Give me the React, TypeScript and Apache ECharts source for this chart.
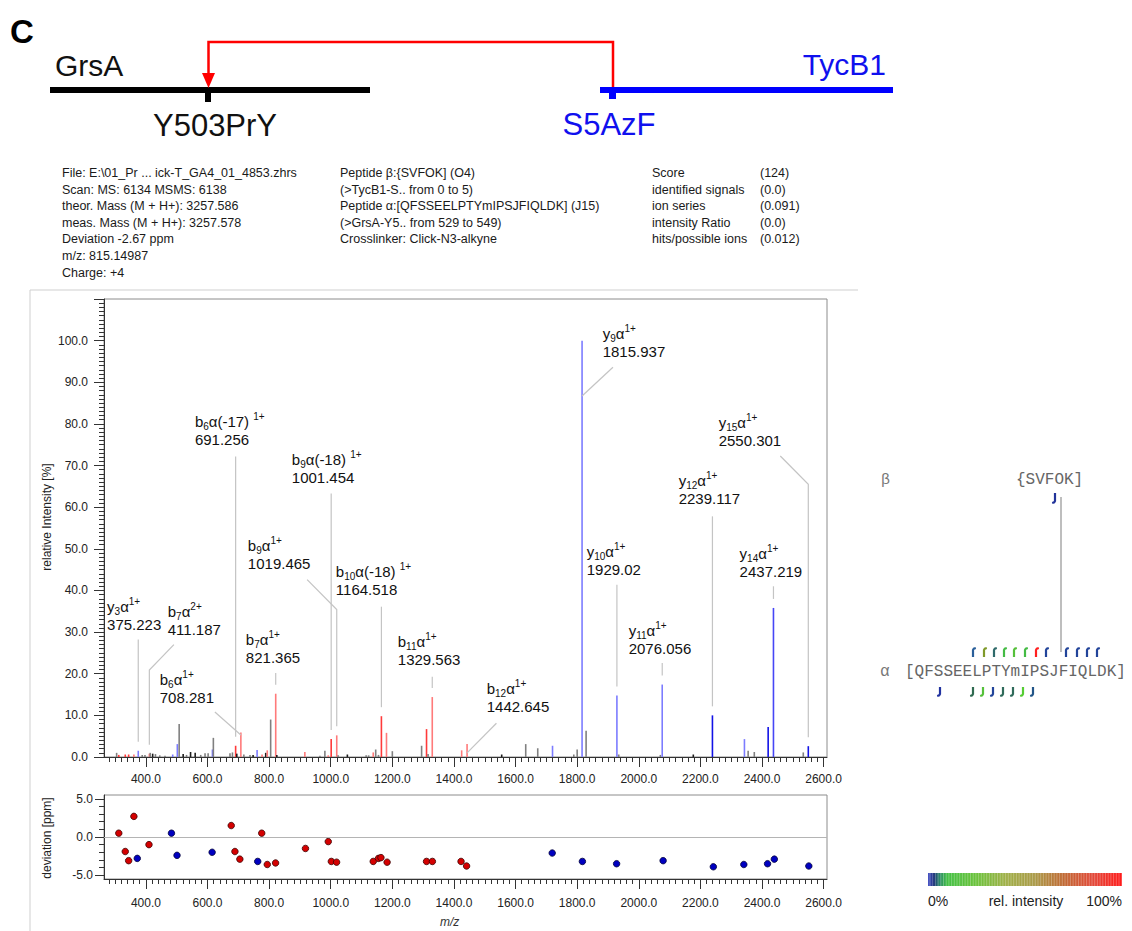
import React, { useEffect, useRef } from "react";
import * as echarts from "echarts";

const FONT = '"Liberation Sans", Arial, Helvetica, sans-serif';
const MONO = '"Liberation Mono", "DejaVu Sans Mono", "Courier New", monospace';

// ---------- axes ----------
const X_MIN = 264;
const X_MAX = 2611;
const X_MAJOR = [400, 600, 800, 1000, 1200, 1400, 1600, 1800, 2000, 2200, 2400, 2600];
const X_MINOR: number[] = [];
for (let v = 280; v <= 2600; v += 20) if (v % 200 !== 0) X_MINOR.push(v);
const DEV_LABELS = [-5, 0, 5];
const DEV_MINOR = [-4, -3, -2, -1, 1, 2, 3, 4];

// ---------- spectrum peaks ----------
const PEAK_MZ = [305, 312, 333, 344, 361, 375.2, 388, 397, 411.2, 414, 422, 431, 445, 462, 487, 502, 508, 521, 532, 545, 560, 578, 592, 602, 616, 619, 673, 681, 691.3, 695, 708.3, 718, 738, 748, 761, 777, 789, 794, 805, 821.4, 825, 916, 965, 981, 992, 1001.5, 1019.5, 1024, 1054, 1115, 1123, 1138, 1146, 1155, 1164.5, 1181, 1200, 1295, 1311, 1316, 1329.6, 1425, 1442.6, 1555, 1633, 1672, 1720, 1789, 1800, 1815.9, 1829, 1929.0, 1935, 2070, 2076.1, 2177, 2239.1, 2343, 2355, 2375, 2420, 2437.2, 2534, 2550.3];
const PEAK_INT = [1.0, 0.5, 0.6, 0.6, 0.6, 1.5, 0.5, 0.5, 0.8, 1.0, 0.8, 0.7, 0.4, 0.3, 0.6, 3.1, 7.9, 0.7, 0.5, 1.2, 1.0, 0.5, 0.9, 0.9, 1.8, 4.6, 0.9, 1.1, 2.7, 0.8, 5.9, 0.6, 0.5, 0.5, 1.7, 0.6, 1.0, 1.6, 9.0, 15.2, 0.5, 1.2, 0.3, 1.5, 0.4, 4.3, 5.2, 0.4, 0.6, 0.4, 0.4, 1.1, 1.8, 0.5, 9.8, 5.8, 1.4, 2.7, 6.7, 0.7, 14.4, 1.6, 3.1, 0.6, 3.1, 2.1, 2.7, 0.6, 1.8, 100, 6.3, 14.8, 0.6, 0.5, 17.4, 0.6, 10.0, 4.3, 1.5, 1.2, 7.2, 35.8, 1.1, 2.6];
const PEAK_CLASS = ["g", "R", "R", "R", "r", "b", "g", "g", "r", "g", "k", "g", "g", "g", "b", "b", "g", "k", "g", "k", "k", "g", "g", "g", "b", "g", "g", "g", "R", "k", "r", "g", "g", "k", "b", "r", "k", "r", "g", "r", "k", "r", "g", "g", "r", "R", "r", "g", "k", "g", "g", "r", "g", "g", "R", "r", "g", "g", "R", "g", "r", "r", "r", "k", "g", "g", "b", "g", "g", "b", "g", "b", "g", "g", "b", "k", "B", "b", "g", "g", "B", "M", "g", "B"];
const CLASS_COLOR: Record<string, string> = { r: "#ff7a7a", R: "#ff3a3a", b: "#7c7cff", B: "#1212e6", M: "#4646f6", g: "#808080", k: "#1e1e1e" };

// ---------- annotations ----------
const ANNOT_ION = ["y", "b", "b", "b", "b", "b", "b", "b", "b", "b", "y", "y", "y", "y", "y", "y"];
const ANNOT_SUB = ["3", "7", "6", "6", "9", "9", "10", "7", "11", "12", "9", "10", "11", "12", "14", "15"];
const ANNOT_MOD = ["", "", "", "(-17) ", "(-18) ", "", "(-18) ", "", "", "", "", "", "", "", "", ""];
const ANNOT_CHARGE = ["1+", "2+", "1+", "1+", "1+", "1+", "1+", "1+", "1+", "1+", "1+", "1+", "1+", "1+", "1+", "1+"];
const ANNOT_TEXT = ["375.223", "411.187", "708.281", "691.256", "1001.454", "1019.465", "1164.518", "821.365", "1329.563", "1442.645", "1815.937", "1929.02", "2076.056", "2239.117", "2437.219", "2550.301"];
const ANNOT_PEAK_MZ = [375.2, 411.2, 708.3, 691.3, 1001.5, 1019.5, 1164.5, 821.4, 1329.6, 1442.6, 1815.9, 1929.0, 2076.1, 2239.1, 2437.2, 2550.3];
const ANNOT_PEAK_INT = [1.5, 0.8, 5.9, 2.7, 4.3, 5.2, 9.8, 15.2, 14.4, 3.1, 100, 14.8, 17.4, 10.0, 35.8, 2.6];

// label layout (in data units of the spectrum axes)
const LABEL_POS = [[274, 38.5], [471, 37.3], [445, 20.9], [559, 83.0], [873.7, 73.9], [731, 53.2], [1016.5, 46.9], [724.5, 30.6], [1217.7, 30.1], [1506.4, 18.8], [1882.8, 104.0], [1831, 51.7], [1967.2, 32.7], [2129.4, 68.8], [2327.3, 51.3], [2259.2, 82.8]];
const LEADER_START = [[375.2, 28.2], [490.9, 27.0], [624, 10.8], [691.3, 72.2], [1001.5, 63.3], [923.4, 42.6], [1164.5, 36.1], [821.4, 20.2], [1329.6, 19.3], [1537.9, 8.1], [1916.2, 93.6], [1929.0, 41.4], [2076.1, 22.6], [2239.1, 57.8], [2437.2, 41.0], [2459.4, 72.3]];
const LEADER_BEND: (number[] | null)[] = [null, [411.2, 20.9], null, null, null, [1019.5, 35.4], null, null, null, null, null, null, null, null, null, [2550.3, 65.5]];
const LEADER_END: (number | null)[] = [null, null, 5.3, null, null, null, null, null, null, 1.0, 86.7, null, null, null, null, null];

// ---------- deviation ----------
const DEV_B_MZ = [312, 333, 344, 361, 410, 677, 689, 705, 776, 794, 821, 918, 992, 1002, 1019, 1138, 1155, 1163, 1183, 1311, 1330, 1423, 1441];
const DEV_B_PPM = [0.5, -1.9, -3.1, 2.7, -1.0, 1.5, -1.9, -2.9, 0.5, -3.6, -3.4, -1.5, -0.6, -3.2, -3.3, -3.2, -2.8, -2.7, -3.3, -3.2, -3.2, -3.2, -3.8];
const DEV_Y_MZ = [372, 483, 501, 615, 763, 1719, 1817, 1928, 2079, 2242, 2341, 2418, 2440, 2552];
const DEV_Y_PPM = [-2.8, 0.5, -2.4, -2.0, -3.2, -2.1, -3.2, -3.5, -3.1, -3.9, -3.6, -3.5, -2.9, -3.8];

// ---------- texts ----------
const META_COL1 = ["File: E:\\01_Pr ... ick-T_GA4_01_4853.zhrs", "Scan: MS: 6134 MSMS: 6138", "theor. Mass (M + H+): 3257.586", "meas. Mass (M + H+): 3257.578", "Deviation -2.67 ppm", "m/z: 815.14987", "Charge: +4"];
const META_COL2 = ["Peptide β:{SVFOK] (O4)", "(>TycB1-S.. from 0 to 5)", "Peptide α:[QFSSEELPTYmIPSJFIQLDK] (J15)", "(>GrsA-Y5.. from 529 to 549)", "Crosslinker: Click-N3-alkyne"];
const META_COL3 = ["Score", "identified signals", "ion series", "intensity Ratio", "hits/possible ions"];
const META_COL4 = ["(124)", "(0.0)", "(0.091)", "(0.0)", "(0.012)"];
const META_Y = [173, 189.5, 206, 222.5, 239, 256, 273];

const SEQ_TOP_X = [973, 984, 994, 1004, 1014, 1025, 1036, 1046, 1066, 1077, 1087, 1097];
const SEQ_TOP_COLOR = ["#2a5f9a", "#7f9a2a", "#2f6a6a", "#44bb44", "#55c03a", "#44bb44", "#ff2020", "#22449a", "#22449a", "#22449a", "#22449a", "#22449a"];
const SEQ_BOT_X = [940, 973, 983, 993, 1003, 1013, 1023, 1033];
const SEQ_BOT_COLOR = ["#2233a0", "#2f6a50", "#55c03a", "#22449a", "#2f6a5a", "#2f6a5a", "#55cc33", "#225588"];

function txt(x: number, y: number, text: string, opts: any = {}) {
  const align = opts.align || "left";
  const va = opts.va || "middle";
  return {
    type: "text",
    x,
    y,
    rotation: opts.rotation || 0,
    silent: true,
    style: {
      text,
      x: 0,
      y: 0,
      font: opts.font || `12.5px ${FONT}`,
      fill: opts.fill || "#1a1a1a",
      align,
      textAlign: align,
      verticalAlign: va,
      textVerticalAlign: va,
    },
  };
}

function buildGraphic() {
  const g: any[] = [];
  // header
  g.push(txt(10, 31.5, "C", { font: `bold 33px ${FONT}`, fill: "#000" }));
  g.push(txt(55, 65, "GrsA", { font: `30px ${FONT}`, fill: "#111" }));
  g.push(txt(886, 64, "TycB1", { font: `30px ${FONT}`, fill: "#1010ee", align: "right" }));
  g.push(txt(215, 125, "Y503PrY", { font: `31px ${FONT}`, fill: "#111", align: "center" }));
  g.push(txt(609, 124, "S5AzF", { font: `31px ${FONT}`, fill: "#1010ee", align: "center" }));
  g.push({ type: "rect", shape: { x: 50, y: 87, width: 320, height: 6 }, style: { fill: "#000" }, silent: true });
  g.push({ type: "rect", shape: { x: 205, y: 92, width: 6, height: 10 }, style: { fill: "#000" }, silent: true });
  g.push({ type: "rect", shape: { x: 600, y: 87, width: 293, height: 6 }, style: { fill: "#0000ff" }, silent: true });
  g.push({ type: "rect", shape: { x: 609, y: 92, width: 7, height: 7 }, style: { fill: "#0000ff" }, silent: true });
  g.push({ type: "polyline", shape: { points: [[208.5, 76], [208.5, 42], [613, 42], [613, 87]] }, style: { stroke: "#ff0000", lineWidth: 2.5, fill: null }, silent: true });
  g.push({ type: "polygon", shape: { points: [[202, 73], [215, 73], [208.5, 88]] }, style: { fill: "#ff0000" }, silent: true });

  // metadata
  META_COL1.forEach((t, i) => g.push(txt(62, META_Y[i], t)));
  META_COL2.forEach((t, i) => g.push(txt(340, META_Y[i], t)));
  META_COL3.forEach((t, i) => g.push(txt(652, META_Y[i], t)));
  META_COL4.forEach((t, i) => g.push(txt(760, META_Y[i], t)));

  // panel border
  g.push({ type: "line", shape: { x1: 30, y1: 290, x2: 858, y2: 290 }, style: { stroke: "#cfcfcf", lineWidth: 1 }, silent: true });
  g.push({ type: "line", shape: { x1: 30, y1: 290, x2: 30, y2: 931 }, style: { stroke: "#cfcfcf", lineWidth: 1 }, silent: true });

  // axis names
  g.push(txt(47, 517, "relative Intensity [%]", { font: `12px ${FONT}`, align: "center", rotation: Math.PI / 2, fill: "#222" }));
  g.push(txt(47, 838, "deviation [ppm]", { font: `12px ${FONT}`, align: "center", rotation: Math.PI / 2, fill: "#222" }));
  g.push(txt(440, 922, "m/z", { font: `italic 12px ${FONT}`, fill: "#333" }));

  // sequence panel
  g.push(txt(881, 480, "β", { font: `15px ${MONO}`, fill: "#777" }));
  g.push(txt(1016, 480, "{SVFOK]", { font: `16px ${MONO}`, fill: "#666" }));
  g.push(txt(880, 672, "α", { font: `16px ${MONO}`, fill: "#777" }));
  g.push(txt(905, 672, "[QFSSEELPTYmIPSJFIQLDK]", { font: `16px ${MONO}`, fill: "#666" }));
  g.push({ type: "line", shape: { x1: 1061, y1: 497, x2: 1061, y2: 652 }, style: { stroke: "#a8a8a8", lineWidth: 1.5 }, silent: true });
  SEQ_TOP_X.forEach((x, i) =>
    g.push({ type: "polyline", shape: { points: [[x, 657], [x, 650], [x + 0.8, 648.6], [x + 2.8, 648]] }, style: { stroke: SEQ_TOP_COLOR[i], lineWidth: 2.2, fill: null }, silent: true })
  );
  SEQ_BOT_X.forEach((x, i) =>
    g.push({ type: "polyline", shape: { points: [[x, 687], [x, 694], [x - 0.8, 695.4], [x - 2.8, 696]] }, style: { stroke: SEQ_BOT_COLOR[i], lineWidth: 2.2, fill: null }, silent: true })
  );
  g.push({ type: "polyline", shape: { points: [[1055, 493], [1055, 501], [1054.2, 502.4], [1052.2, 503]] }, style: { stroke: "#22339a", lineWidth: 2.2, fill: null }, silent: true });

  // colour bar
  g.push({
    type: "rect",
    shape: { x: 928, y: 873, width: 194, height: 13 },
    style: {
      fill: new echarts.graphic.LinearGradient(0, 0, 1, 0, [
        { offset: 0, color: "#4a55c8" },
        { offset: 0.03, color: "#1c2f7a" },
        { offset: 0.06, color: "#2a8a66" },
        { offset: 0.1, color: "#44c044" },
        { offset: 0.25, color: "#6cc23c" },
        { offset: 0.4, color: "#a0b048" },
        { offset: 0.55, color: "#aa9a48" },
        { offset: 0.7, color: "#c06a34" },
        { offset: 0.85, color: "#e24a3a" },
        { offset: 1, color: "#ff1a1a" },
      ]),
    },
    silent: true,
  });
  for (let x = 930; x < 1122; x += 2.7) {
    g.push({ type: "line", shape: { x1: x, y1: 873, x2: x, y2: 886 }, style: { stroke: "rgba(255,255,255,0.35)", lineWidth: 0.8 }, silent: true });
  }
  g.push(txt(928, 901, "0%", { font: `14px ${FONT}`, fill: "#222" }));
  g.push(txt(1026, 901, "rel. intensity", { font: `14px ${FONT}`, fill: "#222", align: "center" }));
  g.push(txt(1122, 901, "100%", { font: `14px ${FONT}`, fill: "#222", align: "right" }));
  return g;
}

const RICH = {
  n: { fontSize: 15, fontFamily: FONT, lineHeight: 20, fill: "#111" },
  s: { fontSize: 10, fontFamily: FONT, lineHeight: 12, verticalAlign: "bottom", fill: "#111" },
  p: { fontSize: 10, fontFamily: FONT, lineHeight: 10, verticalAlign: "top", fill: "#111" },
  m: { fontSize: 15, fontFamily: FONT, lineHeight: 16, fill: "#111" },
};

function xAxisMain(gridIndex: number, margin: number) {
  return {
    type: "value",
    gridIndex,
    min: X_MIN,
    max: X_MAX,
    position: "bottom",
    axisLine: { show: true, onZero: false, lineStyle: { color: "#333", width: 1 } },
    axisTick: { show: true, customValues: X_MAJOR, length: 10, lineStyle: { color: "#333" } },
    axisLabel: { show: true, customValues: X_MAJOR, margin, color: "#222", fontSize: 12, fontFamily: FONT, formatter: (v: number) => v.toFixed(1) },
    splitLine: { show: false },
  };
}
function xAxisMinor(gridIndex: number) {
  return {
    type: "value",
    gridIndex,
    min: X_MIN,
    max: X_MAX,
    position: "bottom",
    axisLine: { show: false, onZero: false },
    axisTick: { show: true, customValues: X_MINOR, length: 5, lineStyle: { color: "#333" } },
    axisLabel: { show: false },
    splitLine: { show: false },
  };
}

function buildOption() {
  return {
    animation: false,
    backgroundColor: "#fff",
    grid: [
      { left: 104, top: 299, width: 723, height: 458, show: true, borderColor: "#8c8c8c", borderWidth: 1 },
      { left: 104, top: 795, width: 723, height: 84, show: true, borderColor: "#8c8c8c", borderWidth: 1 },
    ],
    xAxis: [xAxisMain(0, 16), xAxisMinor(0), xAxisMain(1, 18), xAxisMinor(1)],
    yAxis: [
      {
        type: "value",
        gridIndex: 0,
        position: "left",
        min: 0,
        max: 110,
        interval: 10,
        axisLine: { show: true, onZero: false, lineStyle: { color: "#333" } },
        axisTick: { show: true, length: 10, lineStyle: { color: "#333" } },
        minorTick: { show: true, splitNumber: 10, length: 5, lineStyle: { color: "#333" } },
        axisLabel: { margin: 16, color: "#222", fontSize: 12, fontFamily: FONT, formatter: (v: number) => (v > 100 ? "" : v.toFixed(1)) },
        splitLine: { show: false },
      },
      {
        type: "value",
        gridIndex: 1,
        position: "left",
        min: -5.5,
        max: 5.5,
        axisLine: { show: true, onZero: false, lineStyle: { color: "#333" } },
        axisTick: { show: true, customValues: DEV_LABELS, length: 9, lineStyle: { color: "#333" } },
        axisLabel: { customValues: DEV_LABELS, margin: 11, color: "#222", fontSize: 12, fontFamily: FONT, formatter: (v: number) => v.toFixed(1) },
        splitLine: { show: false },
      },
      {
        type: "value",
        gridIndex: 1,
        position: "left",
        offset: 0,
        min: -5.5,
        max: 5.5,
        axisLine: { show: false, onZero: false },
        axisTick: { show: true, customValues: DEV_MINOR, length: 5, lineStyle: { color: "#333" } },
        axisLabel: { show: false },
        splitLine: { show: false },
      },
    ],
    graphic: buildGraphic(),
    series: [
      {
        type: "custom",
        name: "peaks",
        xAxisIndex: 0,
        yAxisIndex: 0,
        silent: true,
        data: PEAK_MZ.map((m, i) => [m, PEAK_INT[i], i]),
        encode: { x: 0, y: 1 },
        renderItem: (params: any, api: any) => {
          const i = api.value(2);
          const p0 = api.coord([api.value(0), 0]);
          const p1 = api.coord([api.value(0), api.value(1)]);
          return {
            type: "line",
            shape: { x1: p0[0], y1: p0[1], x2: p1[0], y2: p1[1] },
            style: { stroke: CLASS_COLOR[PEAK_CLASS[i]], lineWidth: 1.6 },
          };
        },
      },
      {
        type: "custom",
        name: "annotations",
        xAxisIndex: 0,
        yAxisIndex: 0,
        silent: true,
        clip: false,
        data: ANNOT_PEAK_MZ.map((m, i) => [m, ANNOT_PEAK_INT[i], i]),
        encode: { x: 0, y: 1 },
        renderItem: (params: any, api: any) => {
          const i = api.value(2);
          const peak = api.coord([api.value(0), api.value(1)]);
          const pts: number[][] = [api.coord(LEADER_START[i])];
          const bend = LEADER_BEND[i];
          if (bend) pts.push(api.coord(bend));
          const endInt = LEADER_END[i];
          if (endInt == null) pts.push([peak[0], peak[1] - 9]);
          else pts.push(api.coord([api.value(0), endInt]));
          const tp = api.coord(LABEL_POS[i]);
          const text = `{n|${ANNOT_ION[i]}}{s|${ANNOT_SUB[i]}}{n|α${ANNOT_MOD[i]}}{p|${ANNOT_CHARGE[i]}}\n{m|${ANNOT_TEXT[i]}}`;
          return {
            type: "group",
            children: [
              { type: "polyline", shape: { points: pts }, style: { stroke: "#c4c4c4", lineWidth: 1.2, fill: null } },
              {
                type: "text",
                x: tp[0],
                y: tp[1],
                style: { text, rich: RICH, fill: "#111", fontSize: 15, fontFamily: FONT, align: "left", verticalAlign: "top" },
              },
            ],
          };
        },
      },
      {
        type: "scatter",
        name: "b ions",
        xAxisIndex: 2,
        yAxisIndex: 1,
        symbolSize: 6.5,
        silent: true,
        data: DEV_B_MZ.map((m, i) => [m, DEV_B_PPM[i]]),
        itemStyle: { color: "#d40000", borderColor: "#3a0000", borderWidth: 0.8, opacity: 1 },
        markLine: {
          silent: true,
          symbol: "none",
          label: { show: false },
          lineStyle: { color: "#b4b4b4", width: 1.2, type: "solid" },
          data: [{ yAxis: 0 }],
        },
        z: 3,
      },
      {
        type: "scatter",
        name: "y ions",
        xAxisIndex: 2,
        yAxisIndex: 1,
        symbolSize: 6.5,
        silent: true,
        data: DEV_Y_MZ.map((m, i) => [m, DEV_Y_PPM[i]]),
        itemStyle: { color: "#0000c0", borderColor: "#00003a", borderWidth: 0.8, opacity: 1 },
        z: 3,
      },
    ],
  };
}

export default function App() {
  const ref = useRef<HTMLDivElement>(null);
  useEffect(() => {
    const chart = echarts.init(ref.current!, null, { renderer: "svg" });
    chart.setOption(buildOption() as any);
    return () => chart.dispose();
  }, []);
  return <div ref={ref} style={{ position: "absolute", left: 0, top: 0, width: 1132, height: 931, background: "#fff" }} />;
}
